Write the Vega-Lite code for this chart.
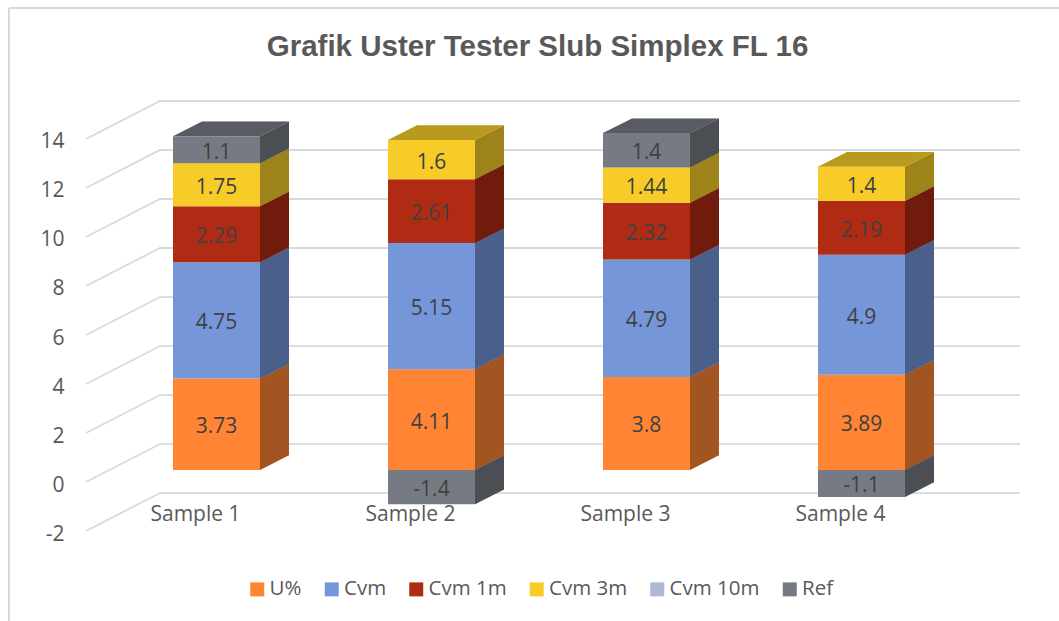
{
"$schema":"https://vega.github.io/schema/vega-lite/v6.json",
"width":1059,"height":621,"autosize":{"type":"none"},"padding":0,"background":"#ffffff",
"view":{"stroke":null},
"config":{"font":"Open Sans"},
"title":{"text":"Grafik Uster Tester Slub Simplex FL 16","font":"Liberation Sans","fontSize":29.5,"fontWeight":"bold","color":"#595959","anchor":"middle","frame":"group","dx":8,"dy":66},
"data":{"values":[
{"s":1,"series":"U%","o":1,"value":3.73},{"s":1,"series":"Cvm","o":2,"value":4.75},{"s":1,"series":"Cvm 1m","o":3,"value":2.29},{"s":1,"series":"Cvm 3m","o":4,"value":1.75},{"s":1,"series":"Ref","o":6,"value":1.1},
{"s":2,"series":"U%","o":1,"value":4.11},{"s":2,"series":"Cvm","o":2,"value":5.15},{"s":2,"series":"Cvm 1m","o":3,"value":2.61},{"s":2,"series":"Cvm 3m","o":4,"value":1.6},{"s":2,"series":"Ref","o":6,"value":-1.4},
{"s":3,"series":"U%","o":1,"value":3.8},{"s":3,"series":"Cvm","o":2,"value":4.79},{"s":3,"series":"Cvm 1m","o":3,"value":2.32},{"s":3,"series":"Cvm 3m","o":4,"value":1.44},{"s":3,"series":"Ref","o":6,"value":1.4},
{"s":4,"series":"U%","o":1,"value":3.89},{"s":4,"series":"Cvm","o":2,"value":4.9},{"s":4,"series":"Cvm 1m","o":3,"value":2.19},{"s":4,"series":"Cvm 3m","o":4,"value":1.4},{"s":4,"series":"Ref","o":6,"value":-1.1}
]},
"transform":[
{"stack":"value","groupby":["s"],"sort":[{"field":"o","order":"ascending"}],"as":["v0","v1"]},
{"joinaggregate":[{"op":"max","field":"v1","as":"top"}],"groupby":["s"]},
{"calculate":"datum.v0+0.49","as":"y0"},
{"calculate":"datum.v1+0.49","as":"y1"},
{"calculate":"datum.s+0.1-0.2023","as":"xl"},
{"calculate":"datum.s+0.1+0.2023","as":"xr"},
{"calculate":"datum.s+0.1","as":"xc"},
{"calculate":"(datum.y0+datum.y1)/2","as":"ym"}
],
"layer":[
{"data":{"values":[{"t":-2},{"t":0},{"t":2},{"t":4},{"t":6},{"t":8},{"t":10},{"t":12},{"t":14}]},
 "transform":[{"calculate":"[0,1,2]","as":"k"},{"flatten":["k"]},
  {"calculate":"datum.k==0?0.493:(datum.k==1?0.837:4.837)","as":"gx"},
  {"calculate":"datum.k==0?datum.t:datum.t+1.55","as":"gy"}],
 "mark":{"type":"line","color":"#D9D9D9","strokeWidth":1.8},
 "encoding":{
  "x":{"field":"gx","type":"quantitative","scale":{"domain":[0.09302,5.0186],"nice":false,"zero":false},
   "axis":{"values":[1,2,3,4],"labelExpr":"'Sample '+datum.value","title":null,"domain":false,"ticks":false,"grid":false,"offset":-118,"labelPadding":0,"labelFontSize":21,"labelColor":"#595959","labelFont":"Open Sans","labelFlush":false}},
  "y":{"field":"gy","type":"quantitative","scale":{"domain":[-5.673,19.673],"nice":false,"zero":false},
   "axis":{"values":[-2,0,2,4,6,8,10,12,14],"labelExpr":"''+datum.value","title":null,"domain":false,"ticks":false,"grid":false,"offset":-66,"labelPadding":2,"labelOffset":3,"labelFontSize":21,"labelColor":"#595959","labelFont":"Open Sans"}},
  "detail":{"field":"t"},
  "order":{"field":"k"}}},
{"transform":[{"calculate":"[0,1]","as":"e"},{"flatten":["e"]},
  {"calculate":"datum.xr+datum.e*0.1349","as":"sx"},
  {"calculate":"datum.y0+datum.e*0.6","as":"sy0"},
  {"calculate":"datum.y1+datum.e*0.6","as":"sy1"}],
 "mark":{"type":"area"},
 "encoding":{"x":{"field":"sx","type":"quantitative"},"y":{"field":"sy1","type":"quantitative","stack":null},"y2":{"field":"sy0"},
  "color":{"field":"series","type":"nominal"},
  "detail":{"field":"s"}}},
{"transform":[{"calculate":"[0,1]","as":"e"},{"flatten":["e"]},
  {"calculate":"datum.xr+datum.e*0.1349","as":"sx"},
  {"calculate":"datum.y0+datum.e*0.6","as":"sy0"},
  {"calculate":"datum.y1+datum.e*0.6","as":"sy1"}],
 "mark":{"type":"area","color":"#000000","opacity":0.36},
 "encoding":{"x":{"field":"sx","type":"quantitative"},"y":{"field":"sy1","type":"quantitative","stack":null},"y2":{"field":"sy0"},
  "detail":[{"field":"s"},{"field":"series"}]}},
{"transform":[{"filter":"datum.v1==datum.top"},{"calculate":"[0,1]","as":"e"},{"flatten":["e"]},
  {"calculate":"datum.xl+datum.e*0.1349","as":"tx0"},
  {"calculate":"datum.xr+datum.e*0.1349","as":"tx1"},
  {"calculate":"datum.y1+datum.e*0.6","as":"ty"}],
 "mark":{"type":"area","orient":"horizontal"},
 "encoding":{"y":{"field":"ty","type":"quantitative"},"x":{"field":"tx0","type":"quantitative","stack":null},"x2":{"field":"tx1"},
  "color":{"field":"series","type":"nominal"},
  "detail":{"field":"s"}}},
{"transform":[{"filter":"datum.v1==datum.top"},{"calculate":"[0,1]","as":"e"},{"flatten":["e"]},
  {"calculate":"datum.xl+datum.e*0.1349","as":"tx0"},
  {"calculate":"datum.xr+datum.e*0.1349","as":"tx1"},
  {"calculate":"datum.y1+datum.e*0.6","as":"ty"}],
 "mark":{"type":"area","orient":"horizontal","color":"#000000","opacity":0.25},
 "encoding":{"y":{"field":"ty","type":"quantitative"},"x":{"field":"tx0","type":"quantitative","stack":null},"x2":{"field":"tx1"},
  "detail":{"field":"s"}}},
{"mark":{"type":"rect"},
 "encoding":{"x":{"field":"xl","type":"quantitative"},"x2":{"field":"xr"},"y":{"field":"y0","type":"quantitative"},"y2":{"field":"y1"},
  "color":{"field":"series","type":"nominal",
   "scale":{"domain":["U%","Cvm","Cvm 1m","Cvm 3m","Cvm 10m","Ref"],"range":["#FF8535","#7597DA","#B02B14","#F7CC29","#AEB9D6","#767B83"]},
   "legend":{"orient":"none","legendX":247,"legendY":579,"direction":"horizontal","columns":6,"title":null,"symbolType":"square","symbolSize":196,"symbolStrokeWidth":0,"labelFontSize":20.5,"labelColor":"#595959","labelFont":"Open Sans","labelOffset":2,"columnPadding":19.5}}}},
{"mark":{"type":"text","fontSize":21,"color":"#404040","font":"Open Sans","dy":3},
 "encoding":{"x":{"field":"xc","type":"quantitative"},"y":{"field":"ym","type":"quantitative"},"text":{"field":"value","type":"nominal"}}},
{"mark":{"type":"rule","color":"#D9D9D9","strokeWidth":1.5},
 "encoding":{"x":{"datum":0.1349},"y":{"datum":19.347},"y2":{"datum":-5.673}}},
{"mark":{"type":"rule","color":"#D9D9D9","strokeWidth":1.5},
 "encoding":{"x":{"datum":0.1349},"x2":{"datum":5.0186},"y":{"datum":19.347}}}
]
}
